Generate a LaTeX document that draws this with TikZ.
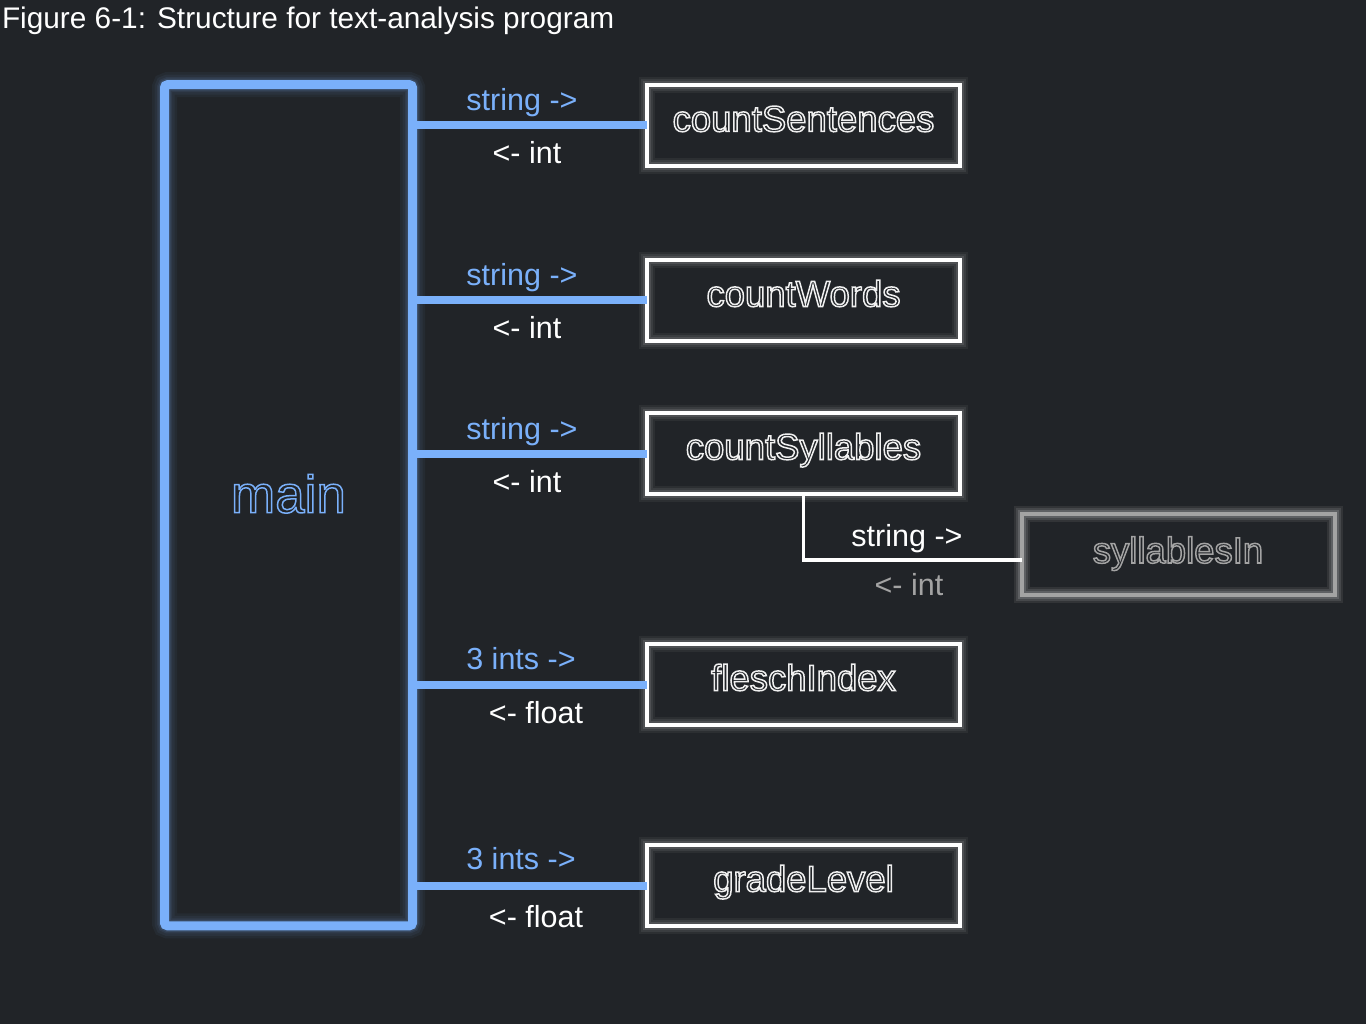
\documentclass[tikz,border=0pt]{standalone}
\usepackage{fontspec}
\setmainfont{Liberation Sans}
\definecolor{bgdark}{HTML}{212428}
\definecolor{mainblue}{HTML}{7AB0FA}
\definecolor{subgrey}{HTML}{A3A3A3}
% hollow letters: stroke only
\newcommand{\hollow}[1]{\special{pdf:code 1 Tr 1.5 w}#1\special{pdf:code 0 Tr}}

\begin{document}
\begin{tikzpicture}[x=1pt, y=-1pt,
every node/.style = {inner sep=0pt, outer sep=0pt},
glow/.style = {preaction={draw=#1, opacity=0.05, line width=25pt},
	preaction={draw=#1, opacity=0.06, line width=20pt},
	preaction={draw=#1, opacity=0.08, line width=15pt},
	preaction={draw=#1, opacity=0.12, line width=12pt}},
softglow/.style = {preaction={draw=#1, opacity=0.05, line width=16pt},
	preaction={draw=#1, opacity=0.07, line width=12pt},
	preaction={draw=#1, opacity=0.1, line width=8pt}},
mainbox/.style = {draw=mainblue, line width=9pt, rounded corners=3pt,
	minimum width=248pt, minimum height=841pt, glow=mainblue},
funcbox/.style = {draw=white, line width=4pt,
	minimum width=313pt, minimum height=81pt,
	text height=20pt, text depth=8pt,
	font=\fontsize{36.5}{42}\selectfont, text=white!94!black,
	softglow=white},
subbox/.style = {funcbox, draw=subgrey, text=subgrey,
	text height=22pt, text depth=4pt, softglow=subgrey},
bluewire/.style = {draw=mainblue, line width=8pt},
whitewire/.style = {draw=white, line width=3.5pt},
inlabel/.style = {anchor=base, font=\fontsize{30.5}{36}\selectfont, text=mainblue},
outlabel/.style = {anchor=base, font=\fontsize{30.5}{36}\selectfont, text=white}]

\fill[bgdark] (0,0) rectangle (1366,1024);
\useasboundingbox (0,0) rectangle (1366,1024);

\node[anchor=base west, text=white, font=\fontsize{29.8}{34}\selectfont] (title) at (2,28.5)
	{Figure 6-1: Structure for text-analysis program};

\node[mainbox] (main) at (288.5,505.25) {};
\node[anchor=base, text=mainblue, font=\fontsize{53}{60}\selectfont] (mainname) at (288.5,512.7) {\hollow{main}};

\node[funcbox] (sent) at (803.5,125.5) {\hollow{countSentences}};
\node[funcbox] (words) at (803.5,300.5) {\hollow{countWords}};
\node[funcbox] (syll) at (803.5,453.5) {\hollow{countSyllables}};
\node[funcbox] (flesch) at (803.5,684.5) {\hollow{fleschIndex}};
\node[funcbox] (grade) at (803.5,885.5) {\hollow{gradeLevel}};
\node[subbox] (sylin) at (1178,554) {\hollow{syllablesIn}};

\draw[bluewire] (main.east |- sent.west) -- (sent.west);
\draw[bluewire] (main.east |- words.west) -- (words.west);
\draw[bluewire] (main.east |- syll.west) -- (syll.west);
\draw[bluewire] (main.east |- flesch.west) -- (flesch.west);
\draw[bluewire] (main.east |- grade.west) -- (grade.west);
\draw[whitewire] (syll.south) |- ([yshift=-6pt]sylin.west);

\node[inlabel] (sentin) at (522,110.5) {string ->};
\node[outlabel] (sentout) at (527,164) {<- int};
\node[inlabel] (wordsin) at (522,285.5) {string ->};
\node[outlabel] (wordsout) at (527,339) {<- int};
\node[inlabel] (syllin) at (522,439.5) {string ->};
\node[outlabel] (syllout) at (527,492.5) {<- int};
\node[inlabel] (fleschin) at (521,669.3) {3 ints ->};
\node[outlabel] (fleschout) at (536,723.7) {<- float};
\node[inlabel] (gradein) at (521,869.3) {3 ints ->};
\node[outlabel] (gradeout) at (536,927) {<- float};
\node[outlabel] (sylinin) at (907,546) {string ->};
\node[outlabel, text=subgrey] (sylinout) at (909,595) {<- int};
\end{tikzpicture}
\end{document}
